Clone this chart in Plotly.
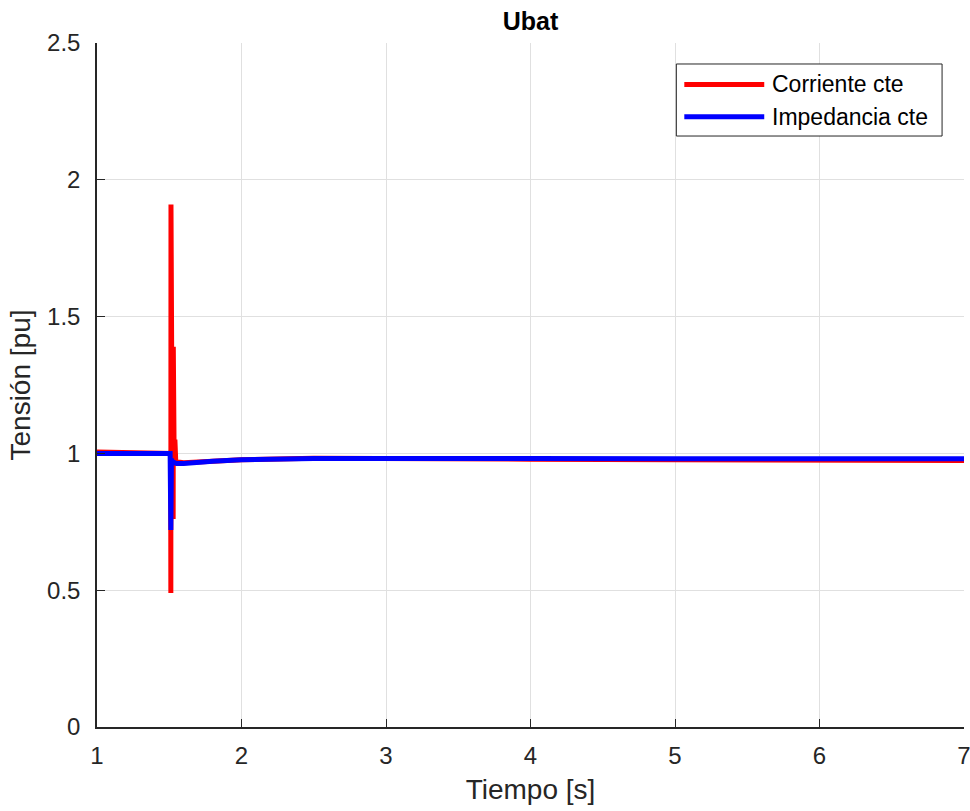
import plotly.graph_objects as go

# Battery voltage (pu) versus time (s) for two load models
t_corriente = [1.0, 1.51, 1.511, 1.512, 1.514, 1.52, 1.526, 1.527, 1.528, 1.534, 1.539, 1.545,
               1.6, 1.8, 2.0, 2.5, 3.0, 4.0, 5.0, 6.0, 7.0]
u_corriente = [1.005, 1.0, 0.49, 1.91, 0.98, 1.0, 0.99, 0.76, 1.39, 0.98, 1.05, 0.97,
               0.966, 0.971, 0.977, 0.982, 0.982, 0.979, 0.977, 0.975, 0.974]

t_impedancia = [1.0, 1.506, 1.511, 1.515, 1.52, 1.55, 1.6, 1.8, 2.0, 2.5, 3.0, 4.0, 5.0, 6.0, 7.0]
u_impedancia = [1.0, 1.0, 0.72, 0.98, 0.97, 0.963, 0.963, 0.971, 0.977, 0.981, 0.982, 0.981,
                0.98, 0.98, 0.98]

x_ticks = [1, 2, 3, 4, 5, 6, 7]
y_ticks = [0, 0.5, 1, 1.5, 2, 2.5]
y_tick_text = ["0", "0.5", "1", "1.5", "2", "2.5"]

series = [
    ("Corriente cte", t_corriente, u_corriente, "#ff0000"),
    ("Impedancia cte", t_impedancia, u_impedancia, "#0000ff"),
]

font_family = "Liberation Sans, Arial, sans-serif"
axis_color = "#262626"
grid_color = "#e0e0e0"
line_width = 5

fig = go.Figure()
for name, t, u, color in series:
    fig.add_trace(go.Scatter(x=t, y=u, mode="lines", name=name,
                             line=dict(color=color, width=line_width)))

# Legend box drawn in paper coordinates (long sample lines, MATLAB style)
box_x0, box_x1 = 0.6682, 0.9747
box_y0, box_y1 = 0.8640, 0.9693
line_x0, line_x1 = 0.6774, 0.7696
text_x = 0.7761
entry_y = [0.9394, 0.8920]

shapes = [dict(type="rect", xref="paper", yref="paper", x0=box_x0, x1=box_x1,
               y0=box_y0, y1=box_y1, line=dict(color=axis_color, width=1),
               fillcolor="white", layer="above")]
annotations = []
for (name, _, _, color), ey in zip(series, entry_y):
    shapes.append(dict(type="line", xref="paper", yref="paper", x0=line_x0, x1=line_x1,
                       y0=ey, y1=ey, line=dict(color=color, width=line_width),
                       layer="above"))
    annotations.append(dict(text=name, xref="paper", yref="paper", x=text_x, y=ey,
                            xanchor="left", yanchor="middle", showarrow=False,
                            font=dict(size=23, color="black", family=font_family)))

fig.update_layout(
    width=970, height=811,
    margin=dict(l=97, r=6, t=43, b=84),
    paper_bgcolor="white", plot_bgcolor="white",
    font=dict(family=font_family, color=axis_color),
    title=dict(text="<b>Ubat</b>", x=0.5, xref="paper", xanchor="center",
               y=(811 - 21) / 811, yref="container", yanchor="middle",
               font=dict(size=25, color="black")),
    showlegend=False,
    shapes=shapes,
    annotations=annotations,
)

fig.update_xaxes(
    range=[1, 7], tickvals=x_ticks, ticks="inside", ticklen=8, tickcolor=axis_color,
    showline=True, linecolor=axis_color, linewidth=1.5, mirror=False,
    showgrid=True, gridcolor=grid_color, gridwidth=1, zeroline=False,
    tickfont=dict(size=24, color=axis_color), ticklabeloverflow="allow",
    ticklabelstandoff=6, automargin=False,
    title=dict(text="Tiempo [s]", font=dict(size=28, color=axis_color), standoff=12),
)
fig.update_yaxes(
    range=[0, 2.5], tickvals=y_ticks, ticktext=y_tick_text, ticks="inside", ticklen=8,
    tickcolor=axis_color, showline=True, linecolor=axis_color, linewidth=1.5, mirror=False,
    showgrid=True, gridcolor=grid_color, gridwidth=1, zeroline=False,
    tickfont=dict(size=24, color=axis_color), ticklabeloverflow="allow",
    ticklabelstandoff=10, automargin=False,
    title=dict(text="Tensión [pu]", font=dict(size=28, color=axis_color), standoff=8),
)

fig.write_html("out.html")
